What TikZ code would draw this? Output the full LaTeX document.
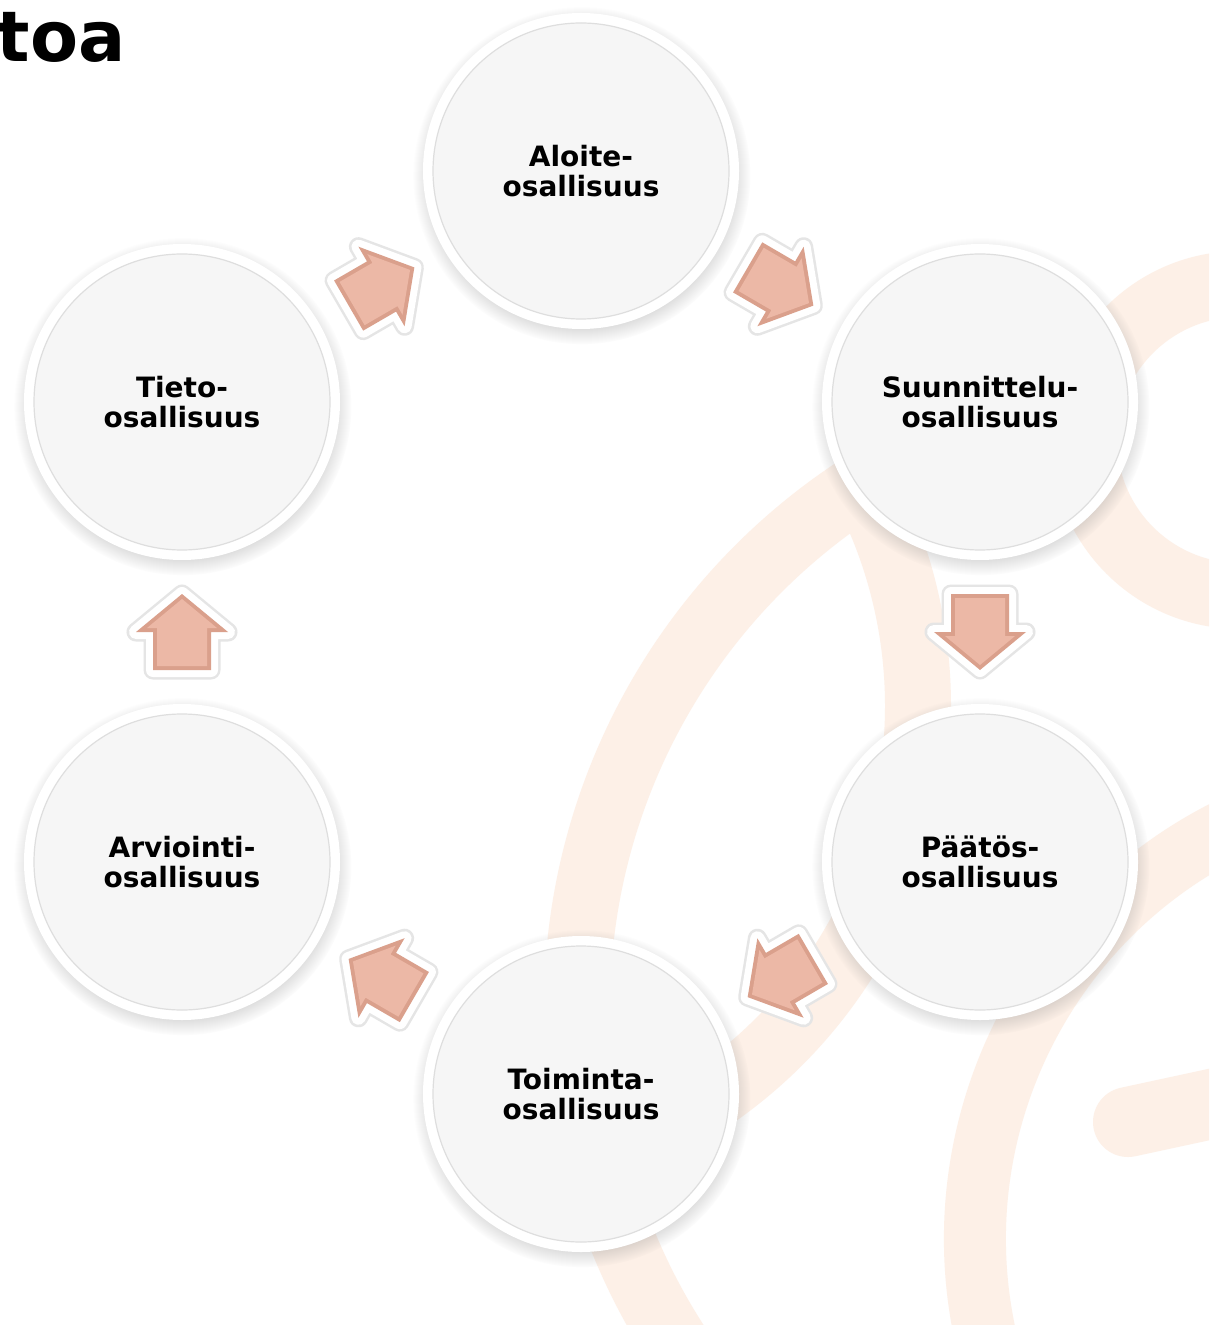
\documentclass[tikz,border=0pt]{standalone}
\usepackage{fontspec}
\setmainfont{DejaVu Sans}
\usetikzlibrary{calc,shadows,fadings}
\definecolor{peach}{RGB}{253,240,231}
\definecolor{salmon}{RGB}{236,184,166}
\definecolor{salmondark}{RGB}{218,160,140}
\definecolor{discfill}{RGB}{246,246,246}
\definecolor{discline}{RGB}{222,222,222}
\tikzset{
  bgband/.style={draw=peach, line width=33pt},
  disc/.style={circle, inner sep=0pt, minimum size=148pt, align=center,
    font=\bfseries\fontsize{14}{15}\selectfont, text=black,
    circular drop shadow={shadow xshift=0.3pt, shadow yshift=-2pt, shadow scale=1.14, opacity=0.4},
    preaction={draw=white, line width=10pt},
    fill=discfill, draw=discline, line width=0.6pt},
  pics/blockarrow/.style={code={
    \draw[black!10, line width=9.5pt, line join=round] (-38,-29) -- (0,-29) -- (0,-46) -- (38,0) -- (0,46) -- (0,29) -- (-38,29) -- cycle;
    \draw[white, fill=white, line width=7pt, line join=round] (-38,-29) -- (0,-29) -- (0,-46) -- (38,0) -- (0,46) -- (0,29) -- (-38,29) -- cycle;
    \fill[salmondark] (-38,-29) -- (0,-29) -- (0,-46) -- (38,0) -- (0,46) -- (0,29) -- (-38,29) -- cycle;
    \fill[salmon] (-34,-25) -- (4,-25) -- (4,-35) -- (33,0) -- (4,35) -- (4,25) -- (-34,25) -- cycle;
  }}
}
\begin{document}
\begin{tikzpicture}[x=0.5pt, y=-0.5pt]
\useasboundingbox (0,0) rectangle (1209,1325);
\clip (0,0) rectangle (1209,1325);
\fill[white] (0,0) rectangle (1209,1325);
% background watermark bands
\draw[bgband] (1240,440) circle[radius=156];
\draw[bgband] ($(1197,1007)+(140:620)$) arc[start angle=140, end angle=245, radius=620];
\draw[bgband] ($(443,706)+(-28:475)$) arc[start angle=-28, end angle=70, radius=475];
\draw[bgband, line width=31pt] ($(1433,1239)+(163:458)$) arc[start angle=163, end angle=252, radius=458];
\draw[peach, line width=35pt, line cap=round] (1128,1122) -- (1230,1100);
% title fragment
\node[anchor=base east, font=\bfseries\fontsize{35}{35}\selectfont, inner sep=0pt] (title) at (126,62) {toa};
% discs
\node[disc] (aloite) at (581,171) {Aloite-\\osallisuus};
\node[disc] (suunn) at (980,402) {Suunnittelu-\\osallisuus};
\node[disc] (paatos) at (980,862) {Päätös-\\osallisuus};
\node[disc] (toim) at (581,1094) {Toiminta-\\osallisuus};
\node[disc] (arvi) at (182,862) {Arviointi-\\osallisuus};
\node[disc] (tieto) at (182,402) {Tieto-\\osallisuus};
% arrows
\pic[rotate=30.1] at ($(tieto)!0.5!(aloite)$) {blockarrow};
\pic[rotate=-30.2] at ($(aloite)!0.5!(suunn)$) {blockarrow};
\pic[rotate=-90] at ($(suunn)!0.5!(paatos)$) {blockarrow};
\pic[rotate=-149.8] at ($(paatos)!0.5!(toim)$) {blockarrow};
\pic[rotate=149.9] at ($(toim)!0.5!(arvi)$) {blockarrow};
\pic[rotate=90] at ($(arvi)!0.5!(tieto)$) {blockarrow};
\end{tikzpicture}
\end{document}
